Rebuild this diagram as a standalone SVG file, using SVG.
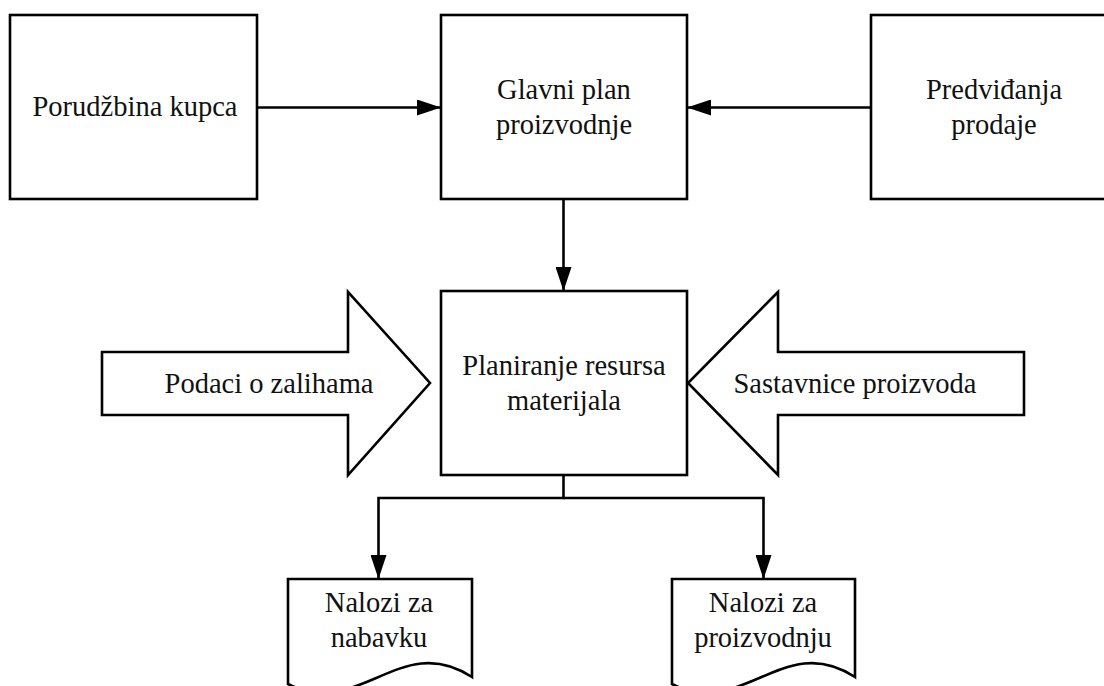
<svg xmlns="http://www.w3.org/2000/svg" width="1104" height="686" viewBox="0 0 1104 686">
  <style>
    .box { fill: #ffffff; stroke: #000000; stroke-width: 2.6; }
    .conn { fill: none; stroke: #000000; stroke-width: 2.6; marker-end: url(#head); }
    .lbl { font-family: "Liberation Serif", "Times New Roman", serif; font-size: 28.5px; fill: #111111; text-anchor: middle; }
  </style>
  <defs>
    <marker id="head" markerUnits="userSpaceOnUse" markerWidth="24" markerHeight="16" refX="24" refY="8" orient="auto">
      <path d="M0,0 L24,8 L0,16 Z" fill="#000000"/>
    </marker>
  </defs>
  <rect width="1104" height="686" fill="#ffffff"/>

  <!-- connectors -->
  <g id="connectors">
    <path class="conn" d="M257,107.5 H441"/>
    <path class="conn" d="M871,107.5 H687"/>
    <path class="conn" d="M563.5,199 V291"/>
    <path class="conn" d="M563.5,475 V498 H378.5 V579"/>
    <path class="conn" d="M563.5,498 H763.5 V579"/>
  </g>

  <!-- top row -->
  <g id="porudzbina">
    <rect class="box" x="10" y="15" width="247" height="184"/>
    <text class="lbl" x="135" y="116">Porudžbina kupca</text>
  </g>
  <g id="glavni-plan">
    <rect class="box" x="441" y="15" width="246" height="184"/>
    <text class="lbl" x="564" y="98.5">Glavni plan</text>
    <text class="lbl" x="564" y="133.5">proizvodnje</text>
  </g>
  <g id="predvidjanja">
    <rect class="box" x="871" y="15" width="246" height="184"/>
    <text class="lbl" x="994" y="98.5">Predviđanja</text>
    <text class="lbl" x="994" y="133.5">prodaje</text>
  </g>

  <!-- centre -->
  <g id="planiranje">
    <rect class="box" x="441" y="291" width="246" height="184"/>
    <text class="lbl" x="564" y="375">Planiranje resursa</text>
    <text class="lbl" x="564" y="410">materijala</text>
  </g>
  <g id="podaci">
    <path class="box" d="M102,352 H348 V292 L430,383 L348,475 V415 H102 Z"/>
    <text class="lbl" x="269" y="393">Podaci o zalihama</text>
  </g>
  <g id="sastavnice">
    <path class="box" d="M1024,352 H778 V292 L688,383 L778,475 V415 H1024 Z"/>
    <text class="lbl" x="855" y="393">Sastavnice proizvoda</text>
  </g>

  <!-- documents -->
  <g id="nalozi-nabavka">
    <path class="box" d="M288,579 H472 V677 C400,630 360,720 288,684 Z"/>
    <text class="lbl" x="379" y="612">Nalozi za</text>
    <text class="lbl" x="379" y="647">nabavku</text>
  </g>
  <g id="nalozi-proizvodnja">
    <path class="box" d="M672,579 H855 V677 C783,630 743,720 672,684 Z"/>
    <text class="lbl" x="763" y="612">Nalozi za</text>
    <text class="lbl" x="763" y="647">proizvodnju</text>
  </g>
</svg>
